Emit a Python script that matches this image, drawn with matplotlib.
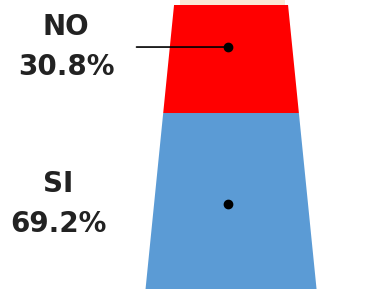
import numpy as np
import matplotlib
matplotlib.use("Agg")
import matplotlib.pyplot as plt
from matplotlib.patches import Polygon

categories = ["SI", "NO"]
values = [69.2, 30.8]
labels = ["SI\n69.2%", "NO\n30.8%"]
colors = ["#5b9bd5", "#ff0000"]

# display height isn't linear in the value (3D pyramid look)
P = 1.3
fwd = lambda v: np.sign(v) * (np.abs(v) / 100.0) ** P
inv = lambda f: np.sign(f) * np.abs(f) ** (1.0 / P) * 100.0

HW_BOT, HW_TOP = 0.45, 0.30


def half_width(v):
    return HW_BOT + (HW_TOP - HW_BOT) * fwd(v)


fig = plt.figure(figsize=(3.84, 2.89), dpi=100)
ax = fig.add_axes([0, 0, 1, 1])
ax.set_yscale("function", functions=(fwd, inv))
ax.set_xlim(-1.216, 0.805)
ax.set_ylim(0, inv(1.0176))

cum = np.concatenate([[0], np.cumsum(values)])
for i, (v, c) in enumerate(zip(values, colors)):
    y0, y1 = cum[i], cum[i + 1]
    pts = [(-half_width(y0), y0), (half_width(y0), y0),
           (half_width(y1), y1), (-half_width(y1), y1)]
    ax.add_patch(Polygon(pts, closed=True, facecolor=c, edgecolor="none"))

# light top face
top = cum[-1]
ax.add_patch(Polygon([(-HW_TOP + 0.03, top), (HW_TOP - 0.015, top),
                      (HW_TOP - 0.015, inv(1.03)), (-HW_TOP + 0.03, inv(1.03))],
                     closed=True, facecolor="#fbe8d4", edgecolor="none"))

# label anchor points (display fraction within chart)
dot_frac = [0.30, 0.852]
text_x = [0.152, 0.172]
for i, lab in enumerate(labels):
    yd = inv(dot_frac[i])
    ax.plot(-0.015, yd, "o", color="black", ms=6)
    ap = None
    if categories[i] == "NO":
        ap = dict(arrowstyle="-", color="black", lw=1.2, shrinkA=14, shrinkB=0)
    ax.annotate(lab, xy=(-0.015, yd), xycoords="data",
                xytext=(text_x[i], dot_frac[i] * 0.9826), textcoords="axes fraction",
                ha="center", va="center", fontsize=20, fontweight="bold",
                color="#222222", linespacing=1.55, arrowprops=ap)

ax.axis("off")
fig.savefig("out.png", dpi=100)
